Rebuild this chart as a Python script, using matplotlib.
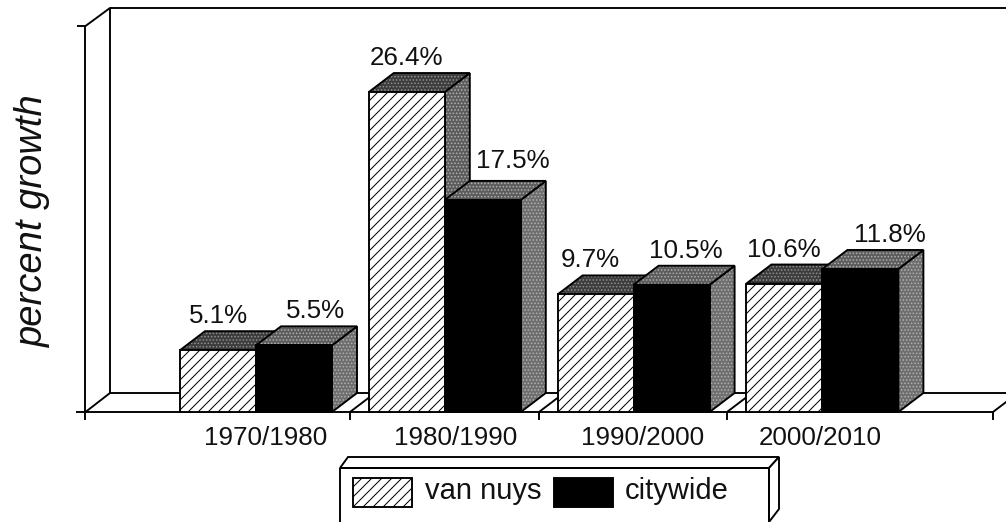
import matplotlib
matplotlib.use('Agg')
import matplotlib.pyplot as plt
from matplotlib.patches import Polygon, Rectangle

plt.rcParams['font.family'] = ['Liberation Sans', 'DejaVu Sans']
plt.rcParams['hatch.linewidth'] = 0.6

periods = ['1970/1980', '1980/1990', '1990/2000', '2000/2010']
van_nuys = [5.1, 26.4, 9.7, 10.6]
citywide = [5.5, 17.5, 10.5, 11.8]

W, H = 1006, 522
DPI = 120
PX = 72 / DPI  # one pixel in points
LW = 1.9 * PX

fig = plt.figure(figsize=(W / DPI, H / DPI), dpi=DPI)

# pixel layer for the box walls and the legend
deco = fig.add_axes([0, 0, 1, 1])
deco.set_xlim(0, W)
deco.set_ylim(H, 0)
deco.axis('off')

# data layer, category index on x and percent on y
ax = fig.add_axes([0, 0, 1, 1], zorder=2)
ax.patch.set_alpha(0)
ax.axis('off')
x_scale = 188.8  # px per category
y_scale = 12.12  # px per percent
x0, y0 = 256, 412
ax.set_xlim(-x0 / x_scale, (W - x0) / x_scale)
ax.set_ylim((y0 - H) / y_scale, y0 / y_scale)

depth_x = 25 / x_scale
depth_y = 19 / y_scale
bar_w = 76 / x_scale


def line(xs, ys, lw=LW):
    deco.plot(xs, ys, color='black', lw=lw, solid_capstyle='butt', solid_joinstyle='miter')


# walls and floor
line([85.5, 85.5], [26, 420])
line([77, 85.5, 110, W], [26, 26, 8, 8])
line([110, 110], [8, 393])
line([110, W], [393, 393])
line([76, 993], [412, 412])
line([85.5, 110], [412, 393])
for tx in [350, 539, 727, 993]:
    line([tx, tx], [412, 420])
    line([tx, tx + 25], [412, 393])


def shaded(points, base, dots):
    # grey face with a speckle on top, like the halftone in the scan
    ax.add_patch(Polygon(points, facecolor=base, edgecolor='none'))
    ax.add_patch(Polygon(points, fill=False, edgecolor=dots, hatch='......', lw=0))
    ax.add_patch(Polygon(points, fill=False, edgecolor='black', lw=LW))


def draw_bar(x, v, hatch, front, top_col, side_col):
    left = x
    right = x + bar_w
    side = [(right, 0), (right + depth_x, depth_y), (right + depth_x, v + depth_y), (right, v)]
    top = [(left, v), (left + depth_x, v + depth_y), (right + depth_x, v + depth_y), (right, v)]
    shaded(side, side_col, '#b0b0b0')
    shaded(top, top_col, '#909090' if top_col == '#3c3c3c' else '#b0b0b0')
    ax.bar(x, v, width=bar_w, align='edge', facecolor=front, edgecolor='black',
           hatch=hatch, lw=LW)


label_nudge = [10, 11, 9, -2]
for i in range(len(periods)):
    draw_bar(i - bar_w, van_nuys[i], '////', 'white', '#3c3c3c', '#5c5c5c')
    draw_bar(i, citywide[i], None, 'black', '#5c5c5c', '#6e6e6e')
    ax.annotate(periods[i], (i, 0), xytext=(label_nudge[i] * PX, -14 * PX),
                textcoords='offset points', ha='center', va='top', fontsize=15.6, color='#111111')

# value labels, nudged by hand like in the original
van_nudge = [(0, 8), (0, 8), (-5, 8), (-1, 8)]
city_nudge = [(21, 8), (30, 13), (14, 8), (29, 8)]
for i in range(len(periods)):
    for xc, v, nudge in [(i - bar_w / 2, van_nuys[i], van_nudge[i]),
                         (i + bar_w / 2, citywide[i], city_nudge[i])]:
        ax.annotate(f'{v}%', (xc, v + depth_y), xytext=(nudge[0] * PX, nudge[1] * PX),
                    textcoords='offset points', ha='center', va='baseline',
                    fontsize=15.6, color='#111111')

deco.text(33, 221, 'percent growth', rotation=90, style='italic', ha='center', va='center',
          fontsize=22.9, color='#111111')

# legend box
deco.add_patch(Polygon([(340, 468), (348, 457), (779, 457), (769, 468)],
                       facecolor='white', edgecolor='black', lw=LW))
deco.add_patch(Polygon([(769, 468), (779, 457), (779, 509), (769, 522)],
                       facecolor='white', edgecolor='black', lw=LW))
line([340, 769], [468, 468])
line([340, 340], [468, H])
line([769, 769], [468, H])
deco.add_patch(Rectangle((353, 478), 59, 29, facecolor='white', edgecolor='black',
                         hatch='////', lw=LW))
deco.add_patch(Rectangle((554, 478), 59, 29, facecolor='black', edgecolor='black', lw=LW))
deco.text(425, 499, 'van nuys', ha='left', va='baseline', fontsize=17.5, color='#111111')
deco.text(625, 499, 'citywide', ha='left', va='baseline', fontsize=17.5, color='#111111')

fig.savefig('out.png', dpi=DPI, facecolor='white')
plt.close(fig)
